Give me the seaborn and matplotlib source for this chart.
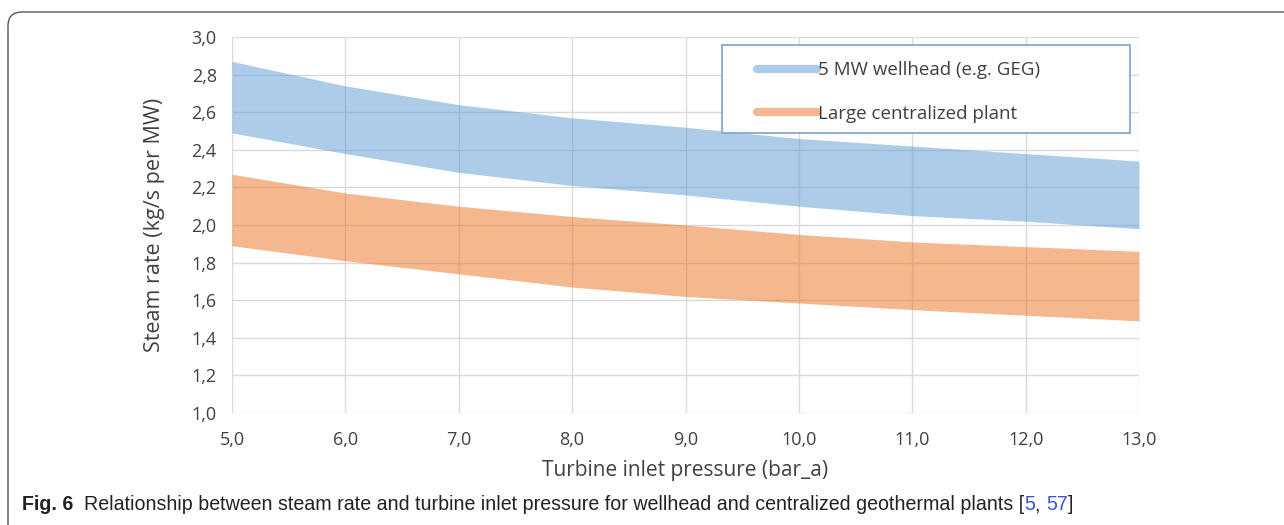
import numpy as np
import pandas as pd
import matplotlib
matplotlib.use("Agg")
import matplotlib.pyplot as plt
import seaborn as sns
from matplotlib.lines import Line2D
from matplotlib.patches import FancyBboxPatch, Rectangle
from matplotlib.ticker import FuncFormatter, MultipleLocator

# values
pressure = [5, 6, 7, 8, 9, 10, 11, 12, 13]
wellhead_hi = [2.87, 2.74, 2.64, 2.57, 2.52, 2.46, 2.42, 2.38, 2.34]
wellhead_lo = [2.49, 2.38, 2.28, 2.21, 2.16, 2.10, 2.05, 2.02, 1.98]
central_hi = [2.27, 2.17, 2.10, 2.045, 2.0, 1.95, 1.91, 1.885, 1.86]
central_lo = [1.89, 1.81, 1.74, 1.67, 1.62, 1.585, 1.55, 1.52, 1.49]
series_names = ["5 MW wellhead (e.g. GEG)", "Large centralized plant"]

df = pd.DataFrame({"p": pressure, "w_hi": wellhead_hi, "w_lo": wellhead_lo,
                   "c_hi": central_hi, "c_lo": central_lo})

sns.set_theme(style="whitegrid")
plt.rcParams["font.family"] = ["Open Sans", "DejaVu Sans"]

blue = "#5b9bd5"
orange = "#ed7d31"
txt_col = "#404040"

fig = plt.figure(figsize=(12.84, 5.25), dpi=100)
ax = fig.add_axes([232 / 1284, 1 - 413 / 525, 907 / 1284, 376 / 525])

for col in ["w_hi", "w_lo", "c_hi", "c_lo"]:
    sns.lineplot(data=df, x="p", y=col, ax=ax, linewidth=0, legend=False)
ax.fill_between(df["p"], df["w_lo"], df["w_hi"], color=blue, alpha=0.5, linewidth=0, zorder=2)
ax.fill_between(df["p"], df["c_lo"], df["c_hi"], color=orange, alpha=0.55, linewidth=0, zorder=2)

ax.set_xlim(5, 13)
ax.set_ylim(1.0, 3.0)
ax.xaxis.set_major_locator(MultipleLocator(1))
ax.yaxis.set_major_locator(MultipleLocator(0.2))
comma = FuncFormatter(lambda v, pos: f"{v:.1f}".replace(".", ","))
ax.xaxis.set_major_formatter(comma)
ax.yaxis.set_major_formatter(comma)
ax.grid(True, color="#d9d9d9", linewidth=1)
ax.set_axisbelow(True)
for s in ax.spines.values():
    s.set_visible(False)
ax.tick_params(axis="both", length=0, labelsize=13, colors=txt_col)
ax.tick_params(axis="y", pad=11)
ax.tick_params(axis="x", pad=13)

ax.set_xlabel("Turbine inlet pressure (bar_a)", fontsize=15, color=txt_col)
ax.set_ylabel("Steam rate (kg/s per MW)", fontsize=15.5, color=txt_col)
ax.xaxis.set_label_coords(0.5, -0.152)
ax.xaxis.label.set_verticalalignment("center")
ax.yaxis.set_label_coords(-0.085, 0.5)
ax.yaxis.label.set_verticalalignment("center")

# legend: box drawn separately so the inner padding can match
ax.add_patch(Rectangle((0.5402, 0.7447), 0.4499, 0.234, transform=ax.transAxes,
                       facecolor="white", edgecolor="#7f9fcc", linewidth=1.2, zorder=4))
handles = [Line2D([], [], color=blue, alpha=0.5, lw=6, solid_capstyle="round"),
           Line2D([], [], color=orange, alpha=0.55, lw=6, solid_capstyle="round")]
leg = ax.legend(handles, series_names, loc="upper left", bbox_to_anchor=(0.5788, 0.936),
                borderaxespad=0, borderpad=0, fontsize=13.5, handlelength=3.2,
                handletextpad=0.05, labelspacing=1.37, frameon=False)
leg.set_zorder(5)
for t in leg.get_texts():
    t.set_color(txt_col)

# rounded panel border
box = FancyBboxPatch((0.08, -0.3), 14, 5.43, boxstyle="round,pad=0,rounding_size=0.14",
                     transform=fig.dpi_scale_trans, facecolor="none", edgecolor="#555555",
                     linewidth=1.0, clip_on=False)
fig.patches.append(box)

# caption with mixed styles
renderer = fig.canvas.get_renderer()
cap_y = 1 - 505 / 525
parts = [("Fig. 6", "bold", "#222222"),
         ("  Relationship between steam rate and turbine inlet pressure for wellhead and centralized geothermal plants [", "normal", "#222222"),
         ("5", "normal", "#3b4fd8"), (", ", "normal", "#222222"),
         ("57", "normal", "#3b4fd8"), ("]", "normal", "#222222")]
x = 22
for txt, wt, col in parts:
    t = fig.text(x / 1284, cap_y, txt, fontsize=14.1, fontweight=wt, color=col,
                 family=["Liberation Sans", "DejaVu Sans"], va="center", ha="left")
    bb = t.get_window_extent(renderer)
    x += bb.width

fig.savefig("out.png", dpi=100)
